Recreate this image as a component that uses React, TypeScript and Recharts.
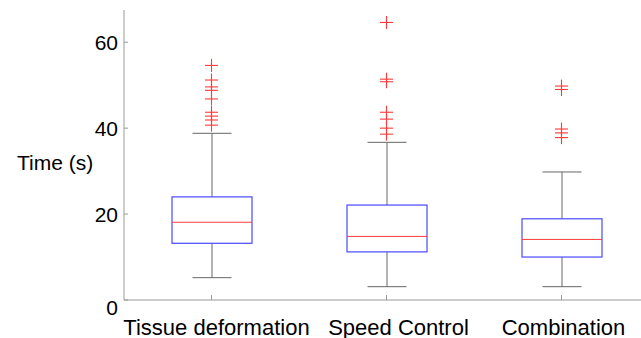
import { ComposedChart, Bar, Scatter, XAxis, YAxis } from "recharts";

const categories = ["Tissue deformation", "Speed Control", "Combination"];
const whiskerLow = [5.2, 3.1, 3.1];
const q1 = [13.2, 11.2, 10.0];
const median = [18.1, 14.8, 14.1];
const q3 = [24.0, 22.1, 18.9];
const whiskerHigh = [38.8, 36.7, 29.8];
const outliers = [
  [54.6, 51.2, 49.6, 48.8, 46.8, 43.7, 42.8, 41.9, 40.7],
  [64.6, 51.4, 50.8, 43.7, 42.1, 40.0, 38.6],
  [49.8, 49.0, 39.8, 38.9, 37.8],
];
const yTicks = [0, 20, 40, 60];

const FONT = "'Liberation Sans', Arial, sans-serif";
const AXIS = "#9a9a9a";

const boxes = categories.map((name, i) => ({
  name,
  low: whiskerLow[i],
  q1: q1[i],
  median: median[i],
  q3: q3[i],
  high: whiskerHigh[i],
}));

const outlierPoints = categories.flatMap((name, i) =>
  outliers[i].map((value) => ({ name, value }))
);

function BoxShape(props: any) {
  const { x, y, width, height, payload } = props;
  const top = Math.min(y, y + height);
  const h = Math.abs(height);
  const toY = (v: number) => top + ((payload.high - v) / (payload.high - payload.low)) * h;
  const cx = x + width / 2;
  const cap = 19.5;
  return (
    <g>
      <line x1={cx} x2={cx} y1={toY(payload.high)} y2={toY(payload.q3)} stroke="#666" />
      <line x1={cx} x2={cx} y1={toY(payload.q1)} y2={toY(payload.low)} stroke="#666" />
      <line x1={cx - cap} x2={cx + cap} y1={toY(payload.high)} y2={toY(payload.high)} stroke="#666" />
      <line x1={cx - cap} x2={cx + cap} y1={toY(payload.low)} y2={toY(payload.low)} stroke="#666" />
      <rect
        x={x}
        y={toY(payload.q3)}
        width={width}
        height={toY(payload.q1) - toY(payload.q3)}
        fill="none"
        stroke="#4a4aff"
        strokeWidth={1.2}
      />
      <line x1={x} x2={x + width} y1={toY(payload.median)} y2={toY(payload.median)} stroke="#ff3a3a" />
    </g>
  );
}

function PlusShape(props: any) {
  const { cx, cy } = props;
  const s = 6.5;
  return (
    <g stroke="#ff3a3a" strokeWidth={1.1}>
      <line x1={cx - s} x2={cx + s} y1={cy} y2={cy} />
      <line x1={cx} x2={cx} y1={cy - s} y2={cy + s} />
    </g>
  );
}

const labelShift: Record<string, number> = {
  "Tissue deformation": 5,
  "Speed Control": 12,
  Combination: 2,
};

function BottomTick(props: any) {
  const { x, y, payload } = props;
  return (
    <g>
      <line x1={x} x2={x} y1={y} y2={y - 5} stroke={AXIS} />
      <text
        x={x + (labelShift[payload.value] ?? 0)}
        y={y + 35}
        textAnchor="middle"
        fontSize={22}
        fontFamily={FONT}
        fill="#000"
      >
        {payload.value}
      </text>
    </g>
  );
}

function TopTick(props: any) {
  const { x, y } = props;
  return <line x1={x} x2={x} y1={y} y2={y + 5} stroke={AXIS} />;
}

function LeftTick(props: any) {
  const { x, y, payload } = props;
  return (
    <g>
      <line x1={x} x2={x + 4} y1={y} y2={y} stroke={AXIS} />
      <text
        x={x - 6}
        y={y + (payload.value === 0 ? 7 : 0)}
        textAnchor="end"
        dominantBaseline="central"
        fontSize={21}
        fontFamily={FONT}
        fill="#000"
      >
        {payload.value}
      </text>
    </g>
  );
}

export default function App() {
  return (
    <div
      style={{
        position: "absolute",
        left: 0,
        top: 0,
        width: 641,
        height: 338,
        overflow: "hidden",
        background: "#fff",
      }}
    >
      <ComposedChart
        width={649}
        height={338}
        data={boxes}
        margin={{ top: 10, right: 0, bottom: 0, left: 0 }}
      >
        <XAxis
          dataKey="name"
          type="category"
          allowDuplicatedCategory={false}
          height={38}
          stroke={AXIS}
          tickSize={0}
          tickMargin={0}
          tick={<BottomTick />}
          interval={0}
        />
        <XAxis
          xAxisId="top"
          dataKey="name"
          type="category"
          allowDuplicatedCategory={false}
          orientation="top"
          height={0}
          stroke={AXIS}
          tickSize={0}
          tickMargin={0}
          tick={<TopTick />}
          interval={0}
        />
        <YAxis
          type="number"
          domain={[0, 67.5]}
          ticks={yTicks}
          width={124}
          stroke={AXIS}
          tickSize={0}
          tickMargin={0}
          tick={<LeftTick />}
          label={{
            content: (p: any) => (
              <text
                x={17}
                y={p.viewBox.y + p.viewBox.height / 2 + 7}
                dominantBaseline="central"
                fontSize={21}
                fontFamily={FONT}
                fill="#000"
              >
                Time (s)
              </text>
            ),
          }}
        />
        <Bar
          dataKey={(d: any) => [d.low, d.high]}
          barSize={80}
          shape={<BoxShape />}
          isAnimationActive={false}
        />
        <Scatter
          data={outlierPoints}
          dataKey="value"
          shape={<PlusShape />}
          isAnimationActive={false}
        />
      </ComposedChart>
    </div>
  );
}
